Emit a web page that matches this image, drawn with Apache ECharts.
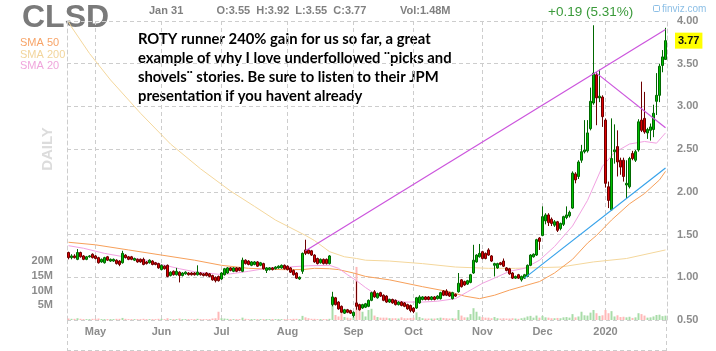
<!DOCTYPE html>
<html><head><meta charset="utf-8">
<script src="https://cdn.jsdelivr.net/npm/echarts@6/dist/echarts.min.js"></script>
<style>html,body{margin:0;padding:0;background:#fff}#c{width:716px;height:351px}</style>
</head><body><div id="c"></div>
<script>
const dates = [
'2019-04-17','2019-04-18','2019-04-22','2019-04-23','2019-04-24','2019-04-25','2019-04-26','2019-04-29','2019-04-30',
'2019-05-01','2019-05-02','2019-05-03','2019-05-06','2019-05-07','2019-05-08','2019-05-09','2019-05-10','2019-05-13','2019-05-14','2019-05-15','2019-05-16','2019-05-17','2019-05-20','2019-05-21','2019-05-22','2019-05-23','2019-05-24','2019-05-28','2019-05-29','2019-05-30','2019-05-31',
'2019-06-03','2019-06-04','2019-06-05','2019-06-06','2019-06-07','2019-06-10','2019-06-11','2019-06-12','2019-06-13','2019-06-14','2019-06-17','2019-06-18','2019-06-19','2019-06-20','2019-06-21','2019-06-24','2019-06-25','2019-06-26','2019-06-27','2019-06-28',
'2019-07-01','2019-07-02','2019-07-03','2019-07-05','2019-07-08','2019-07-09','2019-07-10','2019-07-11','2019-07-12','2019-07-15','2019-07-16','2019-07-17','2019-07-18','2019-07-19','2019-07-22','2019-07-23','2019-07-24','2019-07-25','2019-07-26','2019-07-29','2019-07-30','2019-07-31',
'2019-08-01','2019-08-02','2019-08-05','2019-08-06','2019-08-07','2019-08-08','2019-08-09','2019-08-12','2019-08-13','2019-08-14','2019-08-15','2019-08-16','2019-08-19','2019-08-20','2019-08-21','2019-08-22','2019-08-23','2019-08-26','2019-08-27','2019-08-28','2019-08-29','2019-08-30',
'2019-09-03','2019-09-04','2019-09-05','2019-09-06','2019-09-09','2019-09-10','2019-09-11','2019-09-12','2019-09-13','2019-09-16','2019-09-17','2019-09-18','2019-09-19','2019-09-20','2019-09-23','2019-09-24','2019-09-25','2019-09-26','2019-09-27','2019-09-30',
'2019-10-01','2019-10-02','2019-10-03','2019-10-04','2019-10-07','2019-10-08','2019-10-09','2019-10-10','2019-10-11','2019-10-14','2019-10-15','2019-10-16','2019-10-17','2019-10-18','2019-10-21','2019-10-22','2019-10-23','2019-10-24','2019-10-25','2019-10-28','2019-10-29','2019-10-30','2019-10-31',
'2019-11-01','2019-11-04','2019-11-05','2019-11-06','2019-11-07','2019-11-08','2019-11-11','2019-11-12','2019-11-13','2019-11-14','2019-11-15','2019-11-18','2019-11-19','2019-11-20','2019-11-21','2019-11-22','2019-11-25','2019-11-26','2019-11-27','2019-11-29',
'2019-12-02','2019-12-03','2019-12-04','2019-12-05','2019-12-06','2019-12-09','2019-12-10','2019-12-11','2019-12-12','2019-12-13','2019-12-16','2019-12-17','2019-12-18','2019-12-19','2019-12-20','2019-12-23','2019-12-24','2019-12-26','2019-12-27','2019-12-30','2019-12-31',
'2020-01-02','2020-01-03','2020-01-06','2020-01-07','2020-01-08','2020-01-09','2020-01-10','2020-01-13','2020-01-14','2020-01-15','2020-01-16','2020-01-17','2020-01-21','2020-01-22','2020-01-23','2020-01-24','2020-01-27','2020-01-28','2020-01-29','2020-01-30','2020-01-31'
];
const monthTickDates = ['2019-05-01','2019-06-03','2019-07-01','2019-08-01','2019-09-03','2019-10-01','2019-11-01','2019-12-02','2020-01-02'];
const monthTickLabels = ['May','Jun','Jul','Aug','Sep','Oct','Nov','Dec','2020'];
const priceTicks = [0.5,1.0,1.5,2.0,2.5,3.0,3.5,4.0];
const volumeTickLabels = [5,10,15,20];

// [open, close, low, high]
const ohlc = [
[1.29,1.23,1.21,1.30],[1.23,1.25,1.21,1.27],[1.25,1.23,1.22,1.27],[1.21,1.29,1.20,1.33],[1.29,1.24,1.23,1.30],[1.25,1.21,1.20,1.26],[1.21,1.24,1.20,1.25],[1.24,1.25,1.23,1.26],[1.27,1.23,1.22,1.28],
[1.25,1.22,1.21,1.26],[1.23,1.17,1.16,1.24],[1.18,1.21,1.17,1.22],[1.17,1.23,1.16,1.24],[1.24,1.20,1.19,1.25],[1.19,1.21,1.18,1.22],[1.19,1.21,1.18,1.22],[1.20,1.16,1.15,1.21],[1.19,1.15,1.13,1.20],[1.17,1.28,1.16,1.31],[1.26,1.23,1.22,1.27],[1.24,1.21,1.20,1.25],[1.24,1.21,1.20,1.25],[1.20,1.22,1.19,1.23],[1.21,1.18,1.17,1.22],[1.21,1.18,1.17,1.22],[1.21,1.15,1.14,1.23],[1.18,1.16,1.15,1.19],[1.17,1.20,1.16,1.21],[1.19,1.15,1.14,1.20],[1.17,1.15,1.14,1.18],[1.16,1.11,1.10,1.17],
[1.09,1.14,1.08,1.15],[1.13,1.10,1.09,1.14],[1.14,1.01,1.00,1.15],[1.02,1.06,1.01,1.07],[1.07,1.03,1.02,1.08],[1.03,1.07,1.02,1.11],[1.06,1.02,0.94,1.07],[1.02,1.05,1.01,1.06],[1.04,1.06,1.03,1.07],[1.05,1.03,1.02,1.06],[1.05,1.03,1.02,1.06],[1.05,1.03,1.02,1.06],[1.03,1.06,1.02,1.14],[1.05,1.03,1.02,1.06],[1.04,1.02,1.01,1.05],[1.05,1.02,1.01,1.06],[1.04,1.01,1.00,1.05],[1.02,0.97,0.96,1.03],[1.00,0.96,0.94,1.01],[1.01,0.96,0.95,1.02],
[0.98,1.05,0.97,1.06],[1.03,1.10,1.02,1.11],[1.05,1.11,1.04,1.12],[1.11,1.08,1.07,1.12],[1.07,1.11,1.06,1.12],[1.11,1.07,1.06,1.12],[1.11,1.08,1.07,1.12],[1.07,1.20,1.06,1.23],[1.20,1.16,1.15,1.21],[1.19,1.15,1.14,1.20],[1.14,1.18,1.13,1.19],[1.15,1.18,1.14,1.19],[1.18,1.13,1.12,1.19],[1.14,1.17,1.13,1.18],[1.16,1.10,1.09,1.17],[1.08,1.11,1.05,1.12],[1.09,1.11,1.08,1.12],[1.11,1.09,1.08,1.12],[1.10,1.12,1.09,1.13],[1.11,1.13,1.10,1.14],[1.11,1.14,1.10,1.15],[1.14,1.10,1.09,1.15],
[1.13,1.09,1.08,1.14],[1.11,1.06,1.05,1.12],[1.08,1.03,1.02,1.09],[1.05,0.99,0.98,1.06],[0.98,1.00,0.97,1.01],[1.07,1.28,1.04,1.29],[1.32,1.28,1.26,1.44],[1.32,1.28,1.27,1.33],[1.31,1.26,1.25,1.32],[1.26,1.18,1.17,1.27],[1.22,1.16,1.15,1.23],[1.17,1.21,1.16,1.22],[1.21,1.16,1.15,1.22],[1.21,1.16,1.15,1.22],[1.16,1.25,1.15,1.26],[0.68,0.77,0.66,0.83],[0.76,0.68,0.67,0.77],[0.71,0.63,0.62,0.72],[0.66,0.59,0.58,0.67],[0.58,0.62,0.57,0.63],[0.62,0.59,0.58,0.63],[0.61,0.58,0.57,0.62],
[0.55,0.59,0.53,0.60],[0.70,0.66,0.62,0.95],[0.68,0.62,0.61,0.69],[0.64,0.68,0.63,0.69],[0.65,0.69,0.64,0.70],[0.66,0.73,0.65,0.74],[0.73,0.82,0.72,0.83],[0.83,0.77,0.76,0.85],[0.76,0.81,0.75,0.82],[0.82,0.78,0.77,0.83],[0.79,0.73,0.72,0.80],[0.78,0.71,0.70,0.79],[0.71,0.74,0.70,0.75],[0.74,0.70,0.69,0.75],[0.73,0.68,0.67,0.74],[0.68,0.71,0.67,0.72],[0.71,0.67,0.66,0.72],[0.70,0.66,0.65,0.71],[0.68,0.63,0.62,0.69],[0.67,0.61,0.59,0.68],
[0.64,0.60,0.58,0.65],[0.64,0.76,0.63,0.77],[0.70,0.77,0.69,0.79],[0.74,0.77,0.73,0.78],[0.77,0.74,0.73,0.78],[0.77,0.74,0.73,0.78],[0.74,0.77,0.73,0.78],[0.77,0.74,0.73,0.78],[0.75,0.78,0.74,0.79],[0.75,0.82,0.74,0.83],[0.84,0.79,0.78,0.85],[0.84,0.79,0.78,0.86],[0.82,0.78,0.77,0.83],[0.75,0.82,0.74,0.83],[0.80,0.78,0.77,0.81],[0.83,0.93,0.82,1.05],[0.97,0.89,0.88,0.98],[0.95,0.91,0.90,0.96],[0.92,0.96,0.91,0.97],[0.94,1.03,0.93,1.04],[1.05,1.20,1.04,1.38],[1.18,1.26,1.17,1.27],[1.24,1.28,1.23,1.39],
[1.30,1.22,1.21,1.31],[1.28,1.22,1.21,1.29],[1.32,1.26,1.25,1.34],[1.25,1.19,1.18,1.26],[1.14,1.16,1.01,1.17],[1.11,1.16,1.10,1.17],[1.17,1.15,1.14,1.18],[1.19,1.13,1.12,1.22],[1.11,1.08,1.07,1.12],[1.10,1.04,1.03,1.11],[1.05,0.99,0.98,1.06],[0.99,1.01,0.98,1.02],[1.03,0.99,0.98,1.04],[0.97,1.01,0.95,1.02],[0.99,1.03,0.98,1.04],[1.01,1.14,1.00,1.15],[1.14,1.26,1.13,1.27],[1.24,1.27,1.23,1.28],[1.26,1.44,1.25,1.45],[1.46,1.42,1.32,1.47],
[1.49,1.71,1.48,1.83],[1.66,1.73,1.62,1.75],[1.73,1.64,1.60,1.75],[1.68,1.63,1.60,1.70],[1.61,1.65,1.59,1.67],[1.65,1.55,1.53,1.66],[1.57,1.63,1.55,1.64],[1.62,1.71,1.60,1.72],[1.70,1.73,1.68,1.83],[1.72,1.76,1.70,1.78],[1.81,2.22,1.80,2.24],[2.21,2.14,2.10,2.23],[2.18,2.35,2.15,2.37],[2.37,2.47,2.34,2.55],[2.47,2.49,2.45,2.84],[2.48,2.69,2.46,2.84],[2.74,3.06,2.72,3.22],[3.04,3.39,3.02,3.95],[3.37,3.10,2.78,3.40],[3.10,3.12,3.05,3.43],[3.11,2.88,2.76,3.13],
[2.84,2.10,2.05,2.86],[2.06,1.90,1.81,2.12],[1.79,2.39,1.78,2.86],[2.47,2.49,2.33,2.79],[2.53,2.35,2.18,2.72],[2.37,2.29,2.20,2.40],[2.37,2.18,2.12,2.40],[2.08,2.10,1.92,2.37],[2.06,2.39,2.04,2.41],[2.45,2.39,2.37,2.48],[2.37,2.47,2.35,2.49],[2.49,2.82,2.47,2.85],[2.84,2.72,2.70,3.29],[2.86,2.70,2.68,3.17],[2.69,2.73,2.62,2.75],[2.72,2.76,2.60,2.80],[2.73,2.92,2.64,3.02],[3.06,3.13,2.90,3.39],[3.13,3.47,3.05,3.50],[3.48,3.58,3.40,3.66],[3.55,3.77,3.55,3.92]
];

// volume in millions
const volumeM = [
0.5,0.4,0.4,0.6,0.4,0.3,0.3,0.3,0.4,
0.4,0.5,0.3,0.3,0.3,0.3,0.3,0.4,0.4,0.7,0.4,0.3,0.3,0.3,0.3,0.3,0.4,0.3,0.3,0.3,0.3,0.4,
0.4,0.3,0.6,0.3,0.3,0.3,0.5,0.3,0.3,0.3,0.3,0.3,0.4,0.3,0.3,0.3,0.3,0.5,0.6,2.8,
0.6,0.5,0.4,0.3,0.3,0.3,0.3,0.8,0.4,0.3,0.3,0.3,0.3,0.3,0.3,0.3,0.3,0.3,0.3,0.3,0.3,0.3,
0.3,0.3,0.4,0.4,0.3,1.4,0.9,0.6,0.4,0.4,0.3,0.3,0.3,0.3,0.4,5.3,1.7,1.2,2.3,1.0,0.8,0.6,
1.0,18.0,4.5,2.8,1.2,3.4,3.8,1.5,1.0,0.8,0.8,0.8,0.6,0.6,0.6,0.5,0.9,0.6,0.6,0.7,
0.8,2.6,1.0,0.6,0.5,0.5,0.5,0.5,0.6,0.8,0.7,0.6,0.5,0.6,0.5,3.4,1.5,0.9,0.9,2.0,4.0,2.8,1.2,
1.0,0.8,0.8,0.6,1.0,0.6,0.5,0.6,0.5,0.5,0.6,0.5,0.4,0.6,0.8,1.2,1.4,0.8,1.5,0.8,
1.4,0.9,0.8,0.6,0.6,0.7,0.6,0.9,1.0,0.8,2.0,0.9,1.2,2.8,1.6,1.5,2.5,3.4,2.3,1.4,1.6,
3.4,2.3,3.0,1.2,1.6,1.0,1.1,0.9,1.1,0.7,0.9,2.3,2.0,1.5,0.8,0.9,1.2,1.7,1.8,1.3,1.48
];

// moving averages read at points: [day index, value]
const sma50 = [[0,1.41],[9,1.38],[20,1.32],[31,1.26],[42,1.20],[51,1.14],[60,1.105],[71,1.09],[78,1.09],[82,1.105],[87,1.10],[90,1.09],[95,1.05],[99,1.01],[107,0.97],[118,0.89],[127,0.83],[132,0.78],[137,0.75],[142,0.79],[147,0.85],[152,0.90],[157,0.95],[162,1.05],[168,1.21],[173,1.40],[176,1.49],[181,1.67],[187,1.86],[192,1.98],[197,2.14],[199,2.24]];
const sma200 = [[0,3.99],[1,3.93],[7,3.62],[14,3.31],[24,2.92],[34,2.56],[44,2.27],[54,2.01],[62,1.83],[69,1.67],[79,1.49],[82,1.43],[87,1.30],[92,1.24],[96,1.22],[99,1.20],[107,1.19],[118,1.16],[129,1.12],[140,1.105],[149,1.105],[164,1.12],[175,1.18],[186,1.22],[199,1.32]];
const sma20 = [[0,1.37],[5,1.34],[12,1.28],[20,1.23],[26,1.20],[31,1.15],[37,1.10],[42,1.065],[50,1.035],[54,1.04],[60,1.07],[66,1.105],[73,1.12],[80,1.135],[87,1.14],[90,1.105],[93,1.03],[96,0.96],[99,0.88],[102,0.81],[107,0.745],[112,0.71],[118,0.71],[123,0.72],[129,0.75],[133,0.83],[138,0.93],[142,0.99],[147,1.07],[152,1.105],[157,1.20],[162,1.36],[168,1.60],[173,1.90],[178,2.30],[182,2.46],[187,2.56],[192,2.59],[196,2.57],[199,2.69]];
const trendUpper = [[79,1.31],[199,3.90]];
const trendFalling = [[176,3.39],[199,2.75]];
const trendSupport = [[152,0.99],[199,2.28]];

const headerDate = 'Jan 31';
const headerOHLC = 'O:3.55  H:3.92  L:3.55  C:3.77';
const headerVol = 'Vol:1.48M';
const headerChange = '+0.19 (5.31%)';
const noteLines = ['ROTY runner 240% gain for us so far, a great','example of why I love underfollowed \u00A8picks and','shovels\u00A8 stories. Be sure to listen to their JPM','presentation if you havent already'];

const gridColor = '#cdcdcd';
const axisText = '#8c8c8c';
const lastClose = ohlc[ohlc.length-1][1];
const volData = volumeM.map((v,i)=>({value:v,itemStyle:{color: ohlc[i][1]>=ohlc[i][0] ? '#a8dca8' : '#ffb8b8'}}));

const chart = echarts.init(document.getElementById('c'));
const txt = (text,x,y,font,fill,extra)=>Object.assign({type:'text',x:x,y:y,silent:true,style:Object.assign({text:text,font:font,fill:fill,align:'left',verticalAlign:'middle',textAlign:'left',textVerticalAlign:'middle'},extra||{})});
const graphics = [
  txt('CLSD',22,18.5,'bold 32px "Liberation Sans", Arial, sans-serif','#7a7a7a'),
  txt(headerDate,149,11,'bold 11px "Liberation Sans", Arial, sans-serif','#808080'),
  txt(headerOHLC,216.5,11,'bold 11px "Liberation Sans", Arial, sans-serif','#808080'),
  txt(headerVol,400,11,'bold 11px "Liberation Sans", Arial, sans-serif','#808080'),
  txt(headerChange,548,12,'13.5px "Liberation Sans", Arial, sans-serif','#3a9a3a'),
  txt('finviz.com',662,9,'10px "Liberation Sans", Arial, sans-serif','#8cbfe6'),
  {type:'rect',shape:{x:653.5,y:5.5,width:6,height:6,r:1},style:{fill:'none',stroke:'#8cbfe6',lineWidth:1},silent:true},
  txt('SMA 50',20,43,'11px "Liberation Sans", Arial, sans-serif','#f7a468'),
  txt('SMA 200',20,54.5,'11px "Liberation Sans", Arial, sans-serif','#f2d59c'),
  txt('SMA 20',20,66,'11px "Liberation Sans", Arial, sans-serif','#f0a6dc'),
  {type:'text',x:47.5,y:149,rotation:Math.PI/2,silent:true,style:{text:'DAILY',font:'bold 15px "Liberation Sans", Arial, sans-serif',fill:'#dcdcdc',align:'center',verticalAlign:'middle',textAlign:'center',textVerticalAlign:'middle'}},
  {type:'line',silent:true,shape:{x1:67,y1:350.5,x2:667,y2:350.5},style:{stroke:gridColor,lineDash:[4,3],lineWidth:1}},
  {type:'line',silent:true,shape:{x1:67.5,y1:320,x2:67.5,y2:351},style:{stroke:gridColor,lineDash:[4,3],lineWidth:1}},
  {type:'line',silent:true,shape:{x1:666.5,y1:320,x2:666.5,y2:351},style:{stroke:gridColor,lineDash:[4,3],lineWidth:1}}
];
noteLines.forEach((t,k)=>graphics.push(txt(t,138,39.5+18.9*k,'bold 14.8px Lato, "Open Sans", sans-serif','#000000')));

const lineSeries = (name,data,color,width,z)=>({name:name,type:'line',data:data,symbol:'none',silent:true,z:z,lineStyle:{color:color,width:width},itemStyle:{color:color}});

chart.setOption({
  animation:false,
  backgroundColor:'#ffffff',
  grid:{left:67,right:49,top:21,bottom:31},
  xAxis:{type:'category',data:dates,boundaryGap:true,
    axisLine:{show:false},axisTick:{show:false},
    axisLabel:{interval:(i,v)=>monthTickDates.indexOf(v)>=0,formatter:v=>{const k=monthTickDates.indexOf(v);return k>=0?monthTickLabels[k]:'';},color:axisText,fontWeight:'bold',fontSize:11,fontFamily:'"Liberation Sans", Arial, sans-serif',margin:6},
    splitLine:{show:true,alignWithLabel:true,interval:(i,v)=>monthTickDates.indexOf(v)>=0,lineStyle:{color:gridColor,type:[4,3],width:1}}
  },
  yAxis:[
    {type:'value',position:'right',min:priceTicks[0],max:priceTicks[priceTicks.length-1],interval:0.5,
     axisLine:{show:true,lineStyle:{color:gridColor,type:[4,3]}},axisTick:{show:false},
     axisLabel:{formatter:v=>v.toFixed(2),color:axisText,fontWeight:'bold',fontSize:11,fontFamily:'"Liberation Sans", Arial, sans-serif',margin:10},
     splitLine:{show:true,lineStyle:{color:gridColor,type:[4,3]}}},
    {type:'value',position:'left',min:0,max:101.4,interval:5,
     axisLine:{show:true,lineStyle:{color:gridColor,type:[4,3]}},axisTick:{show:false},splitLine:{show:false},
     axisLabel:{formatter:v=>volumeTickLabels.indexOf(v)>=0?(v+'M'):'',color:axisText,fontWeight:'bold',fontSize:11,fontFamily:'"Liberation Sans", Arial, sans-serif',margin:14}}
  ],
  graphic:graphics,
  series:[
    {name:'Volume',type:'bar',yAxisIndex:1,data:volData,barWidth:2,silent:true,z:1},
    lineSeries('SMA 200',sma200,'#f4d79c',1,2),
    lineSeries('SMA 50',sma50,'#f7a05a',1,2),
    lineSeries('SMA 20',sma20,'#f2a2e2',1,2),
    {name:'CLSD',type:'candlestick',data:ohlc,barWidth:2,silent:true,z:3,
     itemStyle:{color:'#00c000',color0:'#dd0000',borderColor:'#006800',borderColor0:'#6e0000',borderWidth:1},
     markLine:{symbol:'none',silent:true,animation:false,data:[{yAxis:lastClose}],lineStyle:{color:'rgba(255,255,255,0)',width:1,type:'solid'},
       label:{show:true,position:'end',distance:8,formatter:lastClose.toFixed(2),backgroundColor:'#ffff00',color:'#111111',fontWeight:'bold',fontSize:11,fontFamily:'"Liberation Sans", Arial, sans-serif',padding:[3,3,2,3]}}},
    lineSeries('Resistance',trendUpper,'#cc55dd',1.2,4),
    lineSeries('Falling',trendFalling,'#cc55dd',1.2,4),
    lineSeries('Support',trendSupport,'#36a2ea',1.2,4)
  ]
});
</script></body></html>
